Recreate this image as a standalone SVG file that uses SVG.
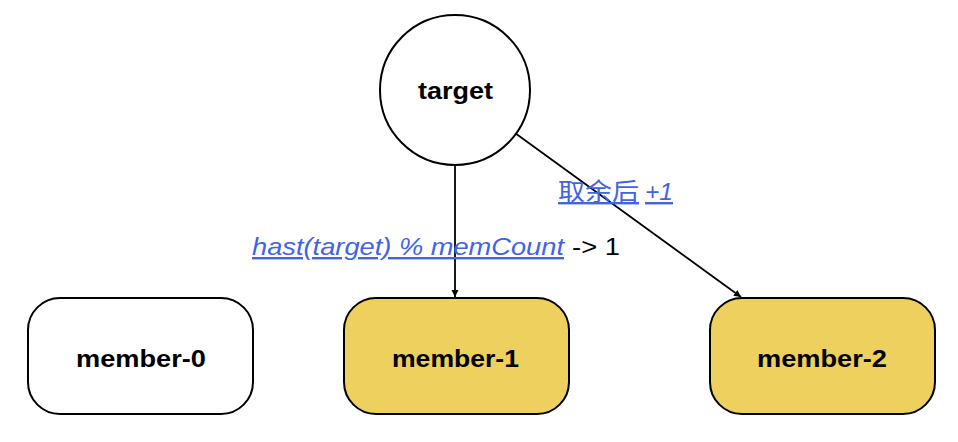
<svg xmlns="http://www.w3.org/2000/svg" width="958" height="442" viewBox="0 0 958 442">
<defs>
<style>
.node{stroke:#000;stroke-width:2}
.lbl{font-family:"Liberation Sans","Noto Sans CJK SC",sans-serif;font-weight:bold;font-size:24px;fill:#000}
.edge{stroke:#000;stroke-width:1.8;fill:none;marker-end:url(#arr)}
.el{font-family:"Liberation Sans","Noto Sans CJK SC",sans-serif;font-size:24px}
.link{fill:#4164E5;text-decoration:underline}
.it{font-style:italic}
</style>
<marker id="arr" viewBox="0 0 10 10" refX="10" refY="5" markerWidth="7" markerHeight="9" markerUnits="userSpaceOnUse" orient="auto"><path d="M0,0 L10,5 L0,10 z" fill="#000"/></marker>
</defs>
<rect width="958" height="442" fill="#fff"/>
<g id="connectors">
<line class="edge" x1="455" y1="165" x2="455" y2="297"/>
<line class="edge" x1="515" y1="133" x2="741" y2="297"/>
<text class="el link" x="558" y="200" textLength="81" lengthAdjust="spacingAndGlyphs">取余后</text>
<text class="el link it" x="645" y="200" textLength="28" lengthAdjust="spacingAndGlyphs">+1</text>
<text class="el link it" x="252" y="255" textLength="312" lengthAdjust="spacingAndGlyphs">hast(target) % memCount</text>
<text class="el" x="572" y="255" textLength="48" lengthAdjust="spacingAndGlyphs" fill="#000">-&gt; 1</text>
</g>
<g id="target">
<circle class="node" cx="455" cy="90" r="75" fill="#fff"/>
<text class="lbl" x="418" y="99" textLength="75" lengthAdjust="spacingAndGlyphs">target</text>
</g>
<g id="member-0">
<rect class="node" x="28" y="298" width="225" height="116" rx="32" fill="#fff"/>
<text class="lbl" x="76" y="367" textLength="130" lengthAdjust="spacingAndGlyphs">member-0</text>
</g>
<g id="member-1">
<rect class="node" x="344" y="298" width="225" height="116" rx="32" fill="#EED05E"/>
<text class="lbl" x="392" y="367" textLength="127" lengthAdjust="spacingAndGlyphs">member-1</text>
</g>
<g id="member-2">
<rect class="node" x="710" y="298" width="225" height="116" rx="32" fill="#EED05E"/>
<text class="lbl" x="757" y="367" textLength="130" lengthAdjust="spacingAndGlyphs">member-2</text>
</g>
</svg>
